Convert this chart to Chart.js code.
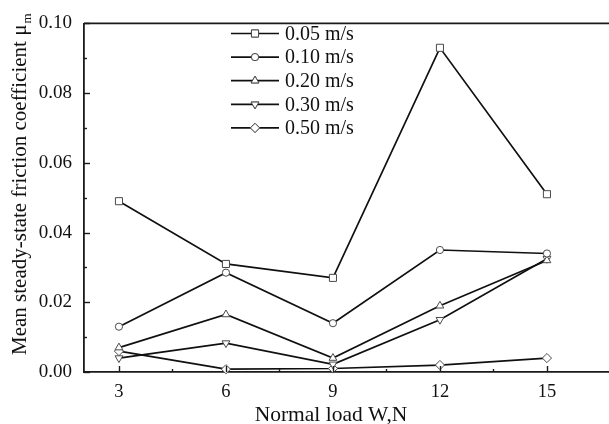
<!DOCTYPE html>
<html lang="en"><head>
<meta charset="utf-8">
<title>Mean steady-state friction coefficient</title>
<style type="text/css">
body { margin:0; background-color:#ffffff; }
#box { width:609px; height:424px; }
</style>
<script src="https://cdn.jsdelivr.net/npm/chart.js@4"></script>
<script>

// chart values
loads=[3,6,9,12,15];
speeds=['0.05 m/s','0.10 m/s','0.20 m/s','0.30 m/s','0.50 m/s'];
mu005=[0.049,0.031,0.027,0.093,0.051];
mu010=[0.013,0.0285,0.014,0.035,0.034];
mu020=[0.007,0.0165,0.004,0.019,0.032];
mu030=[0.004,0.0083,0.0022,0.015,0.0325];
mu050=[0.006,0.0008,0.001,0.002,0.004];
yTicks=[0,0.02,0.04,0.06,0.08,0.10];
xTitle='Normal load W,N';
yTitle='Mean steady-state friction coefficient \u03bc';
yTitleSub='m';

var serif='"Liberation Serif","DejaVu Serif",serif';
var markers=[
  {pointStyle:'rect',radius:5,rotation:0},
  {pointStyle:'circle',radius:3.6,rotation:0},
  {pointStyle:'triangle',radius:4.5,rotation:0},
  {pointStyle:'triangle',radius:4.5,rotation:180},
  {pointStyle:'rectRot',radius:4.6,rotation:0}];

function pts(arr) { return loads.map(function(x,i){ return {x:x,y:arr[i]}; }); }

function makeSet(i,arr) {
  return {label:speeds[i],data:pts(arr),
    borderColor:'#101010',borderWidth:1.7,
    pointStyle:markers[i].pointStyle,pointRadius:markers[i].radius,pointRotation:markers[i].rotation,
    pointBackgroundColor:'#ffffff',pointBorderColor:'#4a4a4a',pointBorderWidth:1,
    tension:0,clip:false}; }

// inward ticks, top frame line, legend and axis titles
var decor={id:'decor',afterDraw:function(chart){
  var ctx=chart.ctx, a=chart.chartArea, xs=chart.scales.x, ys=chart.scales.y;
  ctx.save();
  ctx.strokeStyle='#1a1a1a'; ctx.lineWidth=1.8;
  ctx.beginPath(); ctx.moveTo(a.left,a.top); ctx.lineTo(a.right,a.top); ctx.stroke();
  ctx.lineWidth=1.4;
  for (var k=0;k<=10;k++) {
    var py=Math.round(ys.getPixelForValue(k/100))+0.5, len=(k%2==0)?6:3;
    ctx.beginPath(); ctx.moveTo(a.left,py); ctx.lineTo(a.left+len,py); ctx.stroke(); }
  for (var v=3;v<=15;v+=1.5) {
    var px=Math.round(xs.getPixelForValue(v))+0.5, l2=(v%3==0)?6:3;
    ctx.beginPath(); ctx.moveTo(px,a.bottom); ctx.lineTo(px,a.bottom-l2); ctx.stroke(); }

  // legend
  ctx.font='20px '+serif; ctx.textBaseline='middle'; ctx.textAlign='left'; ctx.fillStyle='#111111';
  chart.data.datasets.forEach(function(ds,i){
    var ly=33.5+i*23.6;
    ctx.strokeStyle='#101010'; ctx.lineWidth=1.7;
    ctx.beginPath(); ctx.moveTo(231,ly); ctx.lineTo(279,ly); ctx.stroke();
    ctx.fillStyle='#ffffff'; ctx.strokeStyle='#4a4a4a'; ctx.lineWidth=1;
    Chart.helpers.drawPoint(ctx,{pointStyle:ds.pointStyle,radius:ds.pointRadius,rotation:ds.pointRotation,borderWidth:1},255,ly);
    ctx.fill(); ctx.stroke();
    ctx.fillStyle='#111111'; ctx.fillText(ds.label,285,ly+1); });

  // x title
  ctx.font='21.5px '+serif; ctx.textAlign='center'; ctx.textBaseline='alphabetic';
  ctx.fillText(xTitle,331,421);

  // y title with subscript
  ctx.translate(26,355); ctx.rotate(-Math.PI/2);
  ctx.textAlign='left'; ctx.font='21px '+serif;
  ctx.fillText(yTitle,0,0);
  var w=ctx.measureText(yTitle).width;
  ctx.font='13px '+serif; ctx.fillText(yTitleSub,w+1,5);
  ctx.restore(); }};

function initChart() {
  var data={datasets:[makeSet(0,mu005),makeSet(1,mu010),makeSet(2,mu020),makeSet(3,mu030),makeSet(4,mu050)]};
  var config={type:'line',data:data,plugins:[decor],options:{
    responsive:false,animation:false,
    layout:{autoPadding:false,padding:{top:16,right:0,left:0,bottom:0}},
    plugins:{legend:{display:false},tooltip:{enabled:false}},
    scales:{
      x:{type:'linear',min:2.02,max:16.74,
        afterBuildTicks:function(s){ s.ticks=loads.map(function(v){return {value:v};}); },
        afterFit:function(s){ s.height=52; },
        grid:{drawOnChartArea:false,drawTicks:false},
        border:{display:true,color:'#1a1a1a',width:1.8},
        ticks:{color:'#111111',padding:9,font:{family:serif,size:18.5},maxRotation:0}},
      y:{min:0,max:0.1,
        afterBuildTicks:function(s){ s.ticks=yTicks.map(function(v){return {value:v};}); },
        afterFit:function(s){ s.width=84; },
        grid:{drawOnChartArea:false,drawTicks:false},
        border:{display:true,color:'#1a1a1a',width:1.8},
        ticks:{color:'#111111',padding:12,font:{family:serif,size:19},
          callback:function(v){ return v.toFixed(2); }}}}}};
  new Chart(document.getElementById('frictionChart'),config); }

</script></head>
<body onload="initChart();">
<div id="box"><canvas id="frictionChart" width="609" height="424"></canvas></div>
</body></html>
